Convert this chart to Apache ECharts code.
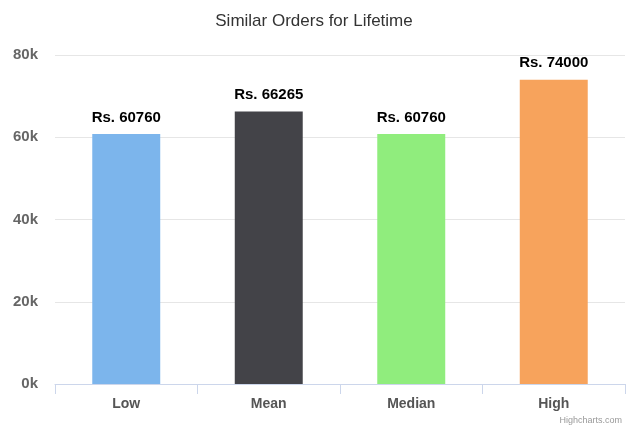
<!DOCTYPE html>
<html><head><meta charset="utf-8">
<script src="https://cdn.jsdelivr.net/npm/echarts@6/dist/echarts.min.js"></script>
<style>html,body{margin:0;padding:0;background:#fff}#c{width:628px;height:428px}</style>
</head><body><div id="c"></div>
<script>
const categories = ["Low", "Mean", "Median", "High"];
const values = [60760, 66265, 60760, 74000];
const colors = ["#7cb5ec", "#434348", "#90ed7d", "#f7a35c"];
const yTicks = [0, 20000, 40000, 60000, 80000];

const chart = echarts.init(document.getElementById('c'), null, {renderer: 'canvas'});
chart.setOption({
  animation: false,
  title: {
    text: "Similar Orders for Lifetime", left: 'center', top: 8,
    textStyle: {fontFamily: 'Liberation Sans, Arial, sans-serif', fontSize: 17, fontWeight: 'normal', color: '#333'}
  },
  graphic: [{
    type: 'text', right: 6, bottom: 3,
    style: {text: 'Highcharts.com', fontSize: 9, fill: '#999', fontFamily: 'Liberation Sans, Arial, sans-serif'}
  }],
  grid: {left: 55, right: 3, top: 55, bottom: 44},
  xAxis: {
    type: 'category', data: categories,
    axisLine: {lineStyle: {color: '#ccd6eb', width: 1}},
    axisTick: {show: true, length: 10, lineStyle: {color: '#ccd6eb'}},
    axisLabel: {color: '#555', fontSize: 14, fontWeight: 'bold', margin: 13, fontFamily: 'Liberation Sans, Arial, sans-serif'}
  },
  yAxis: {
    type: 'value', min: 0, max: 80000, interval: 20000,
    axisLine: {show: false}, axisTick: {show: false},
    splitLine: {lineStyle: {color: '#e6e6e6'}},
    axisLabel: {
      color: '#666', fontSize: 15, fontWeight: 'bold', margin: 17, fontFamily: 'Liberation Sans, Arial, sans-serif',
      formatter: v => (v / 1000) + 'k'
    }
  },
  series: [{
    type: 'bar', barCategoryGap: '52.3%',
    data: values.map((v, i) => ({value: v, itemStyle: {color: colors[i]}})),
    label: {
      show: true, position: 'top', distance: 9,
      formatter: p => 'Rs. ' + p.value,
      color: '#000', fontSize: 15, fontWeight: 'bold', fontFamily: 'Liberation Sans, Arial, sans-serif'
    }
  }]
});
</script></body></html>
